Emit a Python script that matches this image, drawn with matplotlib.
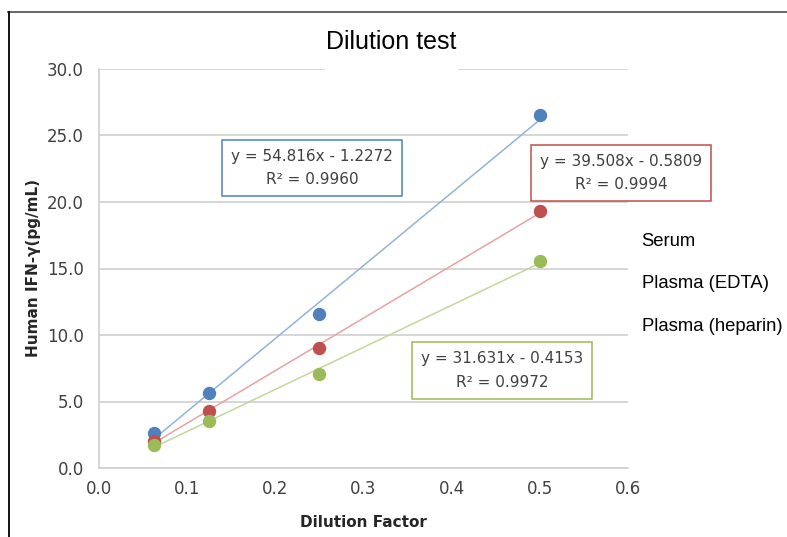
import matplotlib
matplotlib.use("Agg")
import matplotlib.pyplot as plt
from matplotlib.lines import Line2D
from matplotlib.patches import Rectangle
import numpy as np

# ---- data ----
dilution = [0.0625, 0.125, 0.25, 0.5]
series_names = ["Serum", "Plasma (EDTA)", "Plasma (heparin)"]
serum = [2.65, 5.65, 11.55, 26.55]
plasma_edta = [2.05, 4.3, 9.05, 19.3]
plasma_heparin = [1.75, 3.55, 7.05, 15.6]
slopes = [54.816, 39.508, 31.631]
intercepts = [-1.2272, -0.5809, -0.4153]
r2_values = [0.9960, 0.9994, 0.9972]
x_ticks = [0.0, 0.1, 0.2, 0.3, 0.4, 0.5, 0.6]
y_ticks = [0.0, 5.0, 10.0, 15.0, 20.0, 25.0, 30.0]

marker_colors = ["#4F81BD", "#C0504D", "#9BBB59"]
line_colors = ["#95B3D7", "#E6A3A1", "#C4D79B"]
box_pos = [(0.2416, 22.56), (0.592, 22.18), (0.457, 7.33)]

fig = plt.figure(figsize=(7.87, 5.37), dpi=100)
ax = fig.add_axes([99/787, 1-468/537, (628-99)/787, (468-69)/537])

tick_color = "#404040"
grid_color = "#D0D0D0"

all_series = [serum, plasma_edta, plasma_heparin]
xd = np.array(dilution)
for vals, m, b, mc, lc in zip(all_series, slopes, intercepts, marker_colors, line_colors):
    xs = np.array([xd.min(), xd.max()])
    ax.plot(xs, m*xs + b, color=lc, lw=1.1, zorder=2)
for vals, mc in zip(all_series, marker_colors):
    ax.plot(dilution, vals, ls="none", marker="o", ms=8.6, color=mc, mec=mc, zorder=3)

ax.set_xlim(0, 0.6)
ax.set_ylim(0, 30)
ax.set_xticks(x_ticks)
ax.set_yticks(y_ticks)
ax.set_xticklabels([f"{v:.1f}" for v in x_ticks])
ax.set_yticklabels([f"{v:.1f}" for v in y_ticks])
ax.tick_params(axis="both", length=0, labelsize=12, colors=tick_color)
ax.tick_params(axis="y", pad=11)
ax.tick_params(axis="x", pad=9)
ax.yaxis.grid(True, color=grid_color, lw=1.2)
ax.set_axisbelow(True)
for s in ["top", "right"]:
    ax.spines[s].set_visible(False)
for s in ["left", "bottom"]:
    ax.spines[s].set_color(grid_color)
    ax.spines[s].set_linewidth(1.2)

ax.set_xlabel("Dilution Factor", fontsize=11, fontweight="bold", color="#262626", labelpad=12)
ax.set_ylabel("Human IFN-γ(pg/mL)", fontsize=11, fontweight="bold", color="#262626", labelpad=4)

# equation boxes
for (bx, by), m, b, r2, ec in zip(box_pos, slopes, intercepts, r2_values, marker_colors):
    sign = "-" if b < 0 else "+"
    txt = f"y = {m:.3f}x {sign} {abs(b):.4f}\nR² = {r2:.4f}"
    ax.text(bx, by, txt, ha="center", va="center", fontsize=11, color=tick_color,
            linespacing=1.7, multialignment="center", zorder=4,
            bbox=dict(boxstyle="square,pad=0.58", fc="white", ec=ec, lw=1.1))

# title with white gap over top gridline
ax.add_patch(Rectangle(((325-99)/529, 0.99), (458-325)/529, 0.03, transform=ax.transAxes,
                       fc="white", ec="none", zorder=1.5, clip_on=False))
fig.text(391/787, 1-42/537, "Dilution test", ha="center", va="center",
         fontsize=18, family="Liberation Sans", color="black")

# legend text only
handles = [Line2D([], [], ls="none", marker=None) for _ in series_names]
leg = fig.legend(handles, series_names, loc="upper left",
                 bbox_to_anchor=(625/787, 1-216/537), frameon=False,
                 handlelength=0, handletextpad=0, labelspacing=1.38,
                 prop={"family": "Liberation Sans", "size": 13.3})

# outer frame lines
fig.add_artist(Line2D([8/787, 1.0], [1-11.5/537, 1-11.5/537], color="#5a5a5a", lw=1.3))
fig.add_artist(Line2D([8.5/787, 8.5/787], [0, 1-11.5/537], color="black", lw=1.3))

fig.savefig("out.png", dpi=100)
